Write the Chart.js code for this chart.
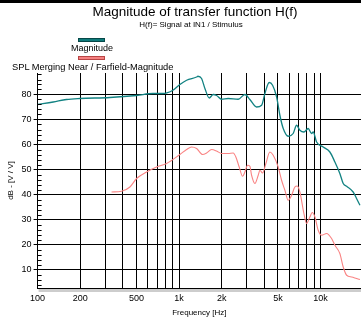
<!DOCTYPE html>
<html><head><meta charset="utf-8">
<script src="https://cdn.jsdelivr.net/npm/chart.js@4/dist/chart.umd.min.js"></script>
<style>
html,body{margin:0;padding:0;background:#fff;}
#wrap{position:relative;width:361px;height:320px;overflow:hidden;font-family:"Liberation Sans",Arial,sans-serif;color:#000;}
#topbar{position:absolute;left:0;top:0;width:361px;height:3px;background:#000;}
.t{position:absolute;white-space:nowrap;text-align:center;}
#title{left:0;width:390px;top:5px;font-size:13.5px;line-height:13.5px;}
#subtitle{left:0;width:382px;top:21px;font-size:8px;line-height:8px;}
#lg1box{position:absolute;left:78px;top:38px;width:25px;height:2px;background:#0e7a7a;border:1px solid #064848;}
#lg1{left:0;width:184px;top:44px;font-size:9px;line-height:9px;}
#lg2box{position:absolute;left:78px;top:56px;width:25px;height:2px;background:#f58080;border:1px solid #b84545;}
#lg2{left:12px;top:63px;font-size:9.3px;line-height:9.3px;}
canvas{position:absolute;left:0;top:0;}
</style>
</head><body>
<div id="wrap">
<canvas id="c" width="361" height="320"></canvas>
<div id="topbar"></div>
<div class="t" id="title">Magnitude of transfer function H(f)</div>
<div class="t" id="subtitle">H(f)= Signal at IN1 / Stimulus</div>
<div id="lg1box"></div>
<div class="t" id="lg1">Magnitude</div>
<div id="lg2box"></div>
<div class="t" id="lg2">SPL Merging Near / Farfield-Magnitude</div>
</div>
<script>
const freqMag = [100,129,160,199,324,501,653,769,904,1013,1130,1330,1358,1442,1522,1633,1742,1841,1997,2223,2616,2918,3165,3528,3828,4040,4333,4578,4890,5155,5445,5904,6400,6763,7138,7622,8170,8630,8866,9370,10430,11630,12620,13680,14450,15280,16990,17950,18970];
const dbMag = [76,77,78,78.4,78.8,79.6,80.4,80.4,81.7,84,85.7,87,87.3,86.4,82.4,78.6,80,79.6,78.1,78.4,78.1,80,78,75,75.7,80.4,84.8,83.7,79,71.7,66.4,63.3,64.4,67.7,65.7,65,66.4,64.4,65,61,59,57,53,48.4,44.4,43.3,41,38.4,35.7];
const freqSpl = [333,392,449,501,589,693,816,1013,1130,1225,1330,1466,1564,1698,1841,1997,2223,2411,2519,2659,2810,2918,3049,3165,3253,3432,3624,3725,3891,4105,4381,4626,5014,5300,5593,5904,6239,6579,6832,7138,7622,7962,8399,8726,9120,9617,10164,11020,11960,12620,13680,14450,15280,16560,17950,18970];
const dbSpl = [41,41.3,43,46.4,49,51,52.4,56,58,59,58.4,56,56.6,58,57.4,56.4,56.4,56.6,55,51,47.3,49,51.7,51.3,47.7,44.4,47.7,49.7,48.6,52.4,57,55.7,51,45.7,41.7,37.7,39.7,43,43.4,41,32.4,28.4,31,32.8,31,25.7,23.7,24.4,22.4,19.7,16.4,11,7.7,7,6.4,6];
const xGridFreqs = [100,200,300,400,500,600,700,800,900,1000,2000,3000,4000,5000,6000,7000,8000,9000,10000];
const xLabelFreqs = [100,200,500,1000,2000,5000,10000];
const xLabelTexts = ['100','200','500','1k','2k','5k','10k'];
const yMajorTicks = [10,20,30,40,50,60,70,80];
const yMinorTicks = [4,6,8,12,14,16,18,22,24,26,28,32,34,36,38,42,44,46,48,52,54,56,58,62,64,66,68,72,74,76,78,82,84,86,88];
const seriesNames = ['Magnitude','SPL Merging Near / Farfield-Magnitude'];

const FAM = '"Liberation Sans", Arial, sans-serif';
const toPts = (xs, ys) => xs.map((x, i) => ({x: x, y: ys[i]}));

const extras = {
  id: 'extras',
  afterDraw(chart) {
    const {ctx, chartArea: a, scales: {y}} = chart;
    ctx.save();
    ctx.fillStyle = '#cdcdcd';
    ctx.fillRect(a.left + 1, a.bottom + 1, a.right - a.left, 3);
    ctx.strokeStyle = '#000';
    ctx.lineWidth = 1;
    ctx.beginPath();
    yMinorTicks.forEach(v => {
      const py = Math.round(y.getPixelForValue(v)) + 0.5;
      ctx.moveTo(a.left, py);
      ctx.lineTo(a.left + 4, py);
    });
    ctx.stroke();
    ctx.restore();
  }
};

new Chart(document.getElementById('c'), {
  type: 'line',
  data: {
    datasets: [
      {label: seriesNames[0], data: toPts(freqMag, dbMag), borderColor: '#128282', borderWidth: 1.3, pointRadius: 0, cubicInterpolationMode: 'monotone', fill: false},
      {label: seriesNames[1], data: toPts(freqSpl, dbSpl), borderColor: '#f98484', borderWidth: 1.1, pointRadius: 0, cubicInterpolationMode: 'monotone', fill: false}
    ]
  },
  options: {
    responsive: false,
    animation: false,
    devicePixelRatio: 1,
    layout: {padding: {top: 73, left: 0, right: 0, bottom: 0}},
    plugins: {legend: {display: false}, title: {display: false}, tooltip: {enabled: false}},
    scales: {
      x: {
        type: 'logarithmic', min: 100, max: 19300,
        afterBuildTicks: s => { s.ticks = xGridFreqs.map(v => ({value: v})); },
        afterFit: s => { s.height = 32; },
        grid: {color: '#000', lineWidth: 1, drawTicks: false},
        border: {color: '#000', width: 1},
        ticks: {autoSkip: false, maxRotation: 0, minRotation: 0, padding: 5, color: '#000', font: {size: 9, family: FAM},
          callback: (v) => { const i = xLabelFreqs.indexOf(v); return i >= 0 ? xLabelTexts[i] : ''; }},
        title: {display: true, text: 'Frequency [Hz]', color: '#000', font: {size: 8, family: FAM}, padding: {top: 0, bottom: 2}}
      },
      y: {
        type: 'linear', min: 2.6, max: 88.6,
        afterBuildTicks: s => { s.ticks = yMajorTicks.map(v => ({value: v})); },
        afterFit: s => { s.width = 37.6; },
        grid: {color: '#000', lineWidth: 1, tickLength: 4},
        border: {color: '#000', width: 1},
        ticks: {padding: 2, color: '#000', font: {size: 9, family: FAM}},
        title: {display: true, text: 'dB - [V / V]', color: '#000', font: {size: 8, family: FAM}, padding: {top: 6, bottom: 0}}
      }
    }
  },
  plugins: [extras]
});
</script>
</body></html>
